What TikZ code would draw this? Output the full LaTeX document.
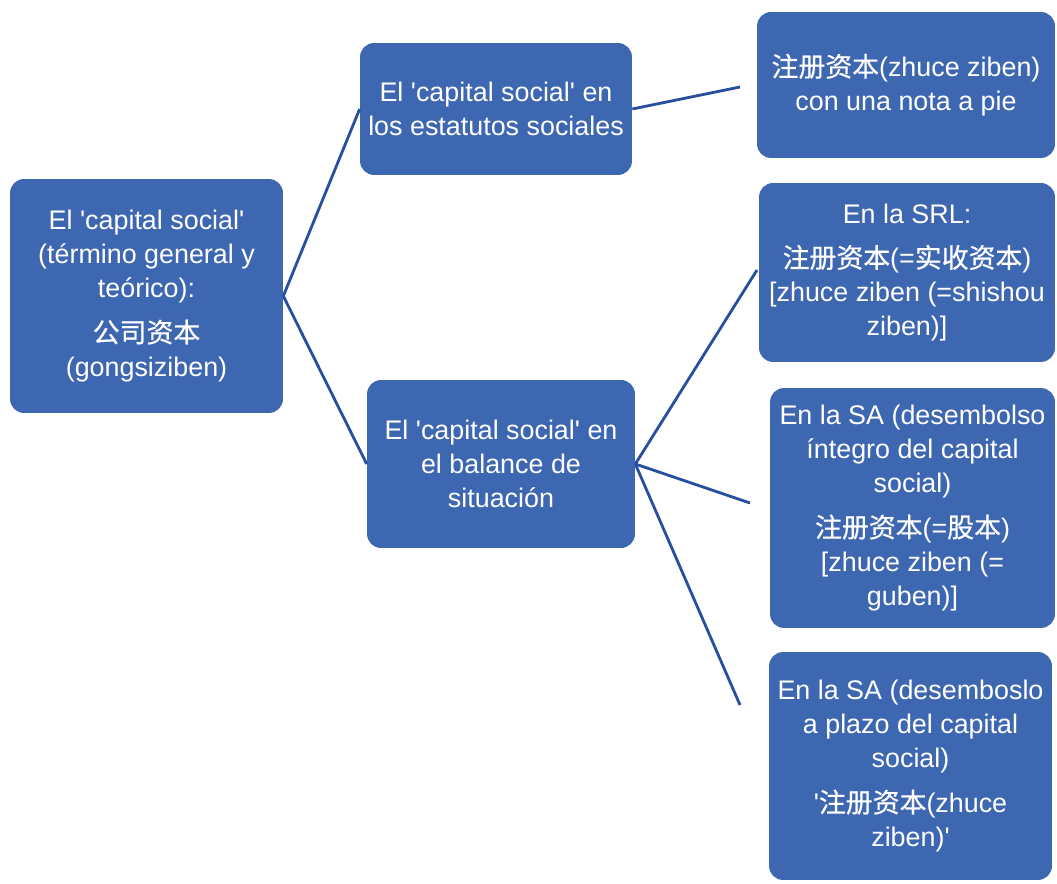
\documentclass[tikz,border=0pt]{standalone}
\usepackage{fontspec}
\setmainfont{Liberation Sans}
\newfontfamily\cjk[FakeBold=0.6]{Noto Sans CJK SC}
\definecolor{cajaazul}{RGB}{62,103,178}
\definecolor{lineaazul}{RGB}{40,78,160}
\newcommand{\zh}[1]{{\cjk #1}}
\newcommand{\qs}{\textquotesingle}

\begin{document}
\begin{tikzpicture}[x=0.02cm,y=-0.02cm,
  caja/.style={rectangle,rounded corners=8pt,fill=cajaazul,text=white,align=center,
    inner sep=2pt,font=\fontsize{15.3}{19.4}\selectfont},
  rama/.style={draw=lineaazul,line width=1.6pt}]
\useasboundingbox (0,0) rectangle (1057,884);
% nivel 1
\node[caja,minimum width=5.46cm,minimum height=4.68cm] (raiz) at (146.5,296)
  {El \qs capital social\qs\\(término general y\\teórico):\\[6pt]\zh{公司资本}\\(gongsiziben)};
% nivel 2
\node[caja,minimum width=5.44cm,minimum height=2.64cm] (estat) at (496,109)
  {El \qs capital social\qs{} en\\los estatutos sociales};
\node[caja,minimum width=5.36cm,minimum height=3.36cm] (balance) at (501,464)
  {El \qs capital social\qs{} en\\el balance de\\situación};
% nivel 3
\node[caja,minimum width=5.96cm,minimum height=2.92cm] (nota) at (906,85)
  {\zh{注册资本}(zhuce ziben)\\con una nota a pie};
\node[caja,minimum width=5.92cm,minimum height=3.58cm] (srl) at (907,272.5)
  {En la SRL:\\[6pt]\zh{注册资本}(=\zh{实收资本})\\{}[zhuce ziben (=shishou\\ziben)]};
\node[caja,minimum width=5.7cm,minimum height=4.8cm] (saint) at (912.5,508)
  {En la SA (desembolso\\íntegro del capital\\social)\\[6pt]\zh{注册资本}(=\zh{股本})\\{}[zhuce ziben (=\\guben)]};
\node[caja,minimum width=5.66cm,minimum height=4.56cm] (saplazo) at (910.5,766)
  {En la SA (desemboslo\\a plazo del capital\\social)\\[6pt]\qs\zh{注册资本}(zhuce\\ziben)\qs};
% ramas
\coordinate (f1) at (740,87); \coordinate (f2) at (757,270);
\coordinate (f3) at (750,503); \coordinate (f4) at (740,705);
\draw[rama] (raiz.east) -- (estat.west);
\draw[rama] (raiz.east) -- (balance.west);
\draw[rama] (estat.east) -- (f1);
\draw[rama] (balance.east) -- (f2);
\draw[rama] (balance.east) -- (f3);
\draw[rama] (balance.east) -- (f4);
\end{tikzpicture}
\end{document}
